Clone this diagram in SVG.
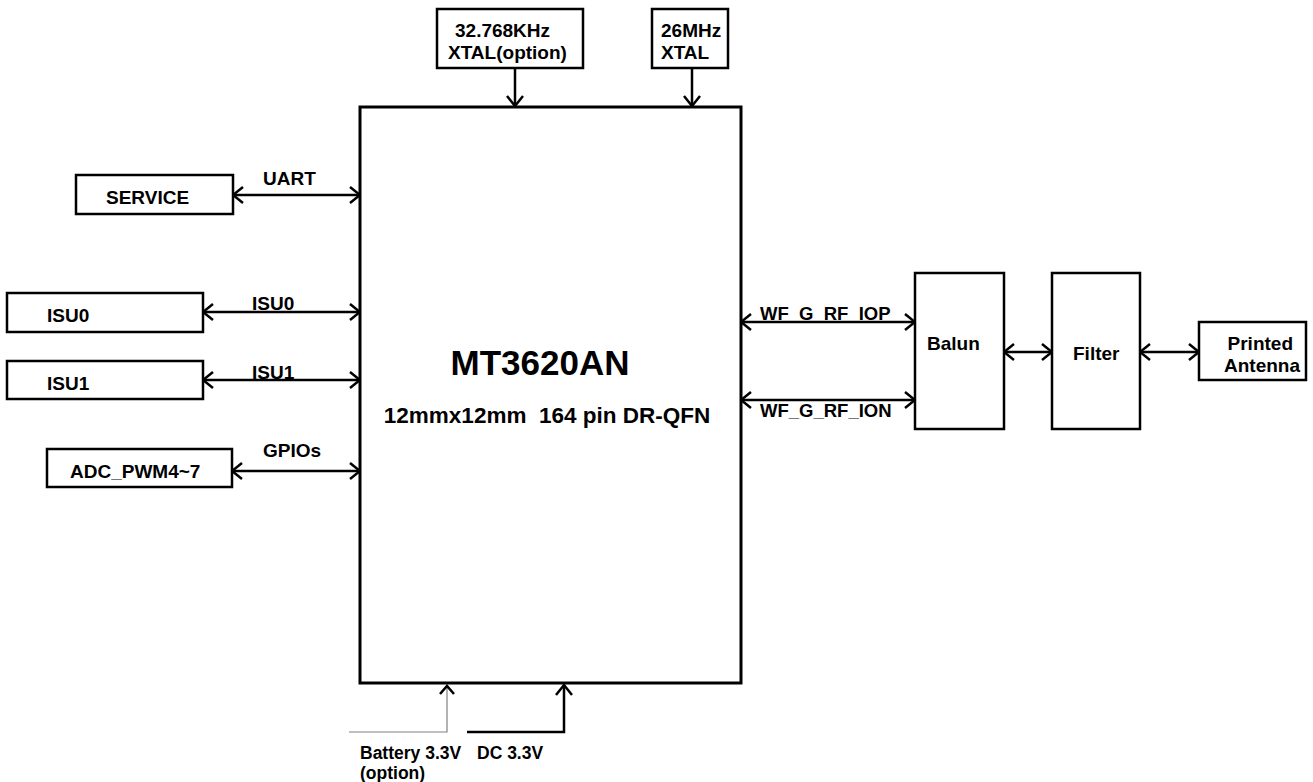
<svg xmlns="http://www.w3.org/2000/svg" width="1313" height="782" viewBox="0 0 1313 782">
<style>
.box{fill:#fff;stroke:#000;stroke-width:2.5}
.main{fill:#fff;stroke:#000;stroke-width:3}
.t{font-family:"Liberation Sans",Arial,sans-serif;font-weight:bold;font-size:19px;fill:#000}
.s{font-size:18.5px}
.b{font-size:17.5px}
.w{stroke:#000;stroke-width:2.5;fill:none}
</style>
<defs>
<marker id="ah" viewBox="0 0 12 18" refX="11" refY="9" markerWidth="12" markerHeight="18" markerUnits="userSpaceOnUse" orient="auto-start-reverse">
<path d="M1,1 L11,9 L1,17" fill="none" stroke="#000" stroke-width="2.5"/>
</marker>
</defs>
<g id="connectors">
<line class="w" x1="515" y1="68" x2="515" y2="106" marker-end="url(#ah)"/>
<line class="w" x1="692" y1="68" x2="692" y2="106" marker-end="url(#ah)"/>
<line class="w" x1="233" y1="195" x2="360" y2="195" marker-start="url(#ah)" marker-end="url(#ah)"/>
<line class="w" x1="203" y1="312" x2="360" y2="312" marker-start="url(#ah)" marker-end="url(#ah)"/>
<line class="w" x1="203" y1="380" x2="360" y2="380" marker-start="url(#ah)" marker-end="url(#ah)"/>
<line class="w" x1="232" y1="471" x2="360" y2="471" marker-start="url(#ah)" marker-end="url(#ah)"/>
<line class="w" x1="741" y1="322" x2="915" y2="322" marker-start="url(#ah)" marker-end="url(#ah)"/>
<line class="w" x1="741" y1="400" x2="915" y2="400" marker-start="url(#ah)" marker-end="url(#ah)"/>
<line class="w" x1="1004" y1="352" x2="1052" y2="352" marker-start="url(#ah)" marker-end="url(#ah)"/>
<line class="w" x1="1140" y1="352" x2="1199" y2="352" marker-start="url(#ah)" marker-end="url(#ah)"/>
<polyline points="349,732 447,732 447,686" fill="none" stroke="#808080" stroke-width="1.2"/>
<path d="M440,694 L447,686 L454,694" fill="none" stroke="#000" stroke-width="2.5"/>
<polyline class="w" points="467,732 564,732 564,685" stroke-width="3" marker-end="url(#ah)"/>
<text class="t" x="263" y="185">UART</text>
<text class="t" x="252" y="310">ISU0</text>
<text class="t" x="252" y="379">ISU1</text>
<text class="t" x="263" y="457">GPIOs</text>
<text class="t s" x="760" y="320">WF_G_RF_IOP</text>
<text class="t s" x="760" y="417">WF_G_RF_ION</text>
<text class="t b" x="360" y="759">Battery 3.3V</text>
<text class="t b" x="360" y="779">(option)</text>
<text class="t b" x="477" y="759">DC 3.3V</text>
</g>
<g id="main">
<rect class="main" x="360" y="107" width="381" height="576"/>
<text class="t" x="540" y="375" style="font-size:35px" text-anchor="middle">MT3620AN</text>
<text class="t" x="547" y="423" style="font-size:22.5px" text-anchor="middle" xml:space="preserve">12mmx12mm  164 pin DR-QFN</text>
</g>
<g id="xtal32">
<rect class="box" x="437" y="9" width="146" height="59"/>
<text class="t" x="455" y="37">32.768KHz</text>
<text class="t" x="448" y="59">XTAL(option)</text>
</g>
<g id="xtal26">
<rect class="box" x="652" y="9" width="76" height="59"/>
<text class="t" x="661" y="37">26MHz</text>
<text class="t" x="661" y="59">XTAL</text>
</g>
<g id="service">
<rect class="box" x="76" y="175" width="157" height="39"/>
<text class="t" x="106" y="204">SERVICE</text>
</g>
<g id="isu0">
<rect class="box" x="7" y="293" width="196" height="39"/>
<text class="t" x="47" y="322">ISU0</text>
</g>
<g id="isu1">
<rect class="box" x="7" y="361" width="196" height="38"/>
<text class="t" x="47" y="390">ISU1</text>
</g>
<g id="adc">
<rect class="box" x="47" y="449" width="185" height="38"/>
<text class="t" x="70" y="478">ADC_PWM4~7</text>
</g>
<g id="balun">
<rect class="box" x="915" y="273" width="89" height="156"/>
<text class="t" x="927" y="350">Balun</text>
</g>
<g id="filter">
<rect class="box" x="1052" y="273" width="88" height="156"/>
<text class="t" x="1073" y="360">Filter</text>
</g>
<g id="antenna">
<rect class="box" x="1199" y="322" width="107" height="58"/>
<text class="t" x="1293" y="350" text-anchor="end">Printed</text>
<text class="t" x="1300" y="372" text-anchor="end">Antenna</text>
</g>
</svg>
